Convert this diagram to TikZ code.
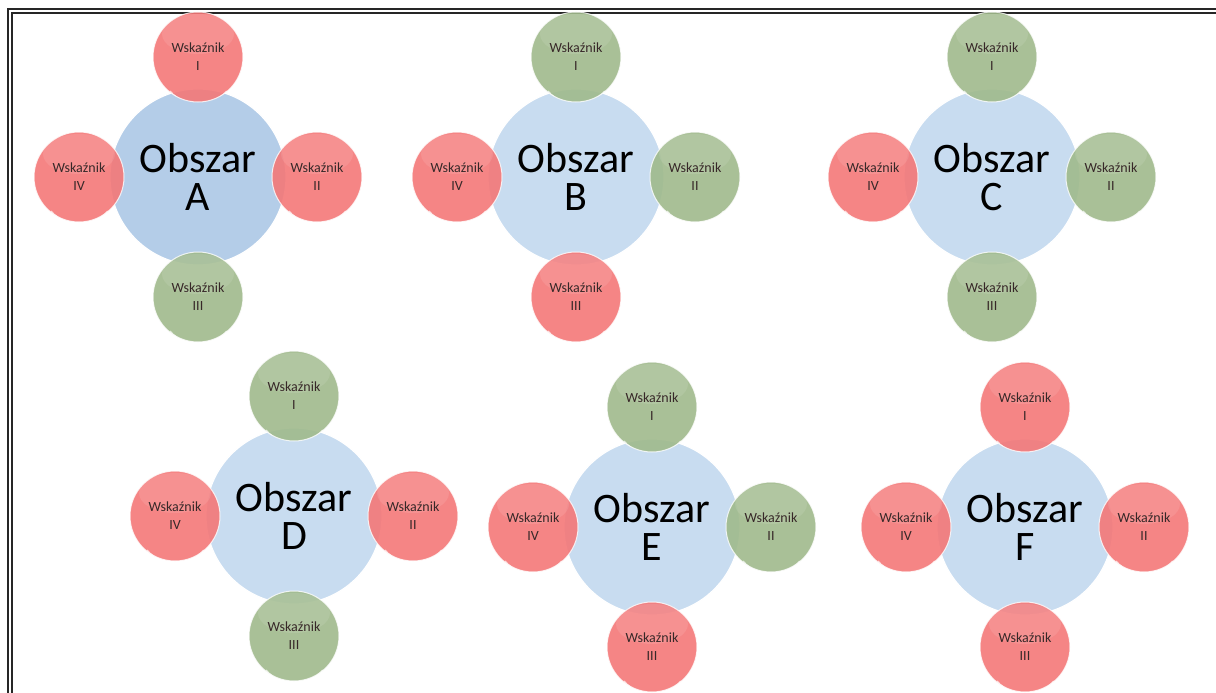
\documentclass[tikz,border=0pt]{standalone}
\usepackage{fontspec}
\setmainfont{Carlito}
\usetikzlibrary{calc}
\definecolor{ired}{RGB}{244,120,120}
\definecolor{igreen}{RGB}{160,186,140}
\definecolor{bluea}{RGB}{180,205,232}
\definecolor{blueb}{RGB}{200,220,240}
\definecolor{itext}{RGB}{55,40,40}
\tikzset{
  bigc/.style={circle, minimum size=176pt, inner sep=0pt, fill=#1, draw=white, line width=1.2pt,
    align=center, font=\fontsize{42}{38}\selectfont, text=black},
  ind/.style={circle, minimum size=90pt, inner sep=0pt, fill=#1, fill opacity=0.9, text opacity=1,
    draw=white, draw opacity=0.8, line width=1pt,
    align=center, font=\fontsize{14}{18}\selectfont, text=itext,
    path picture={
      \fill[white, opacity=0.10] ([yshift=-22pt]path picture bounding box.north) ellipse (36pt and 20pt);
      \draw[white, opacity=0.7, line width=1.2pt] ([yshift=3pt]path picture bounding box.south) ++(-28pt,8pt)
        arc[start angle=-140, end angle=-40, radius=37pt];
    }},
  frameline/.style={draw=black!85, line width=1.8pt}
}
\newcommand\obszarcl[8]{%
  \node[bigc=#8] (#1) at (#2,#3) {Obszar\\#1};
  \node[ind=#4] (#1i)   at ($(#1)+(0,-120)$) {Wskaźnik\\I};
  \node[ind=#5] (#1ii)  at ($(#1)+(119,0)$) {Wskaźnik\\II};
  \node[ind=#6] (#1iii) at ($(#1)+(0,120)$) {Wskaźnik\\III};
  \node[ind=#7] (#1iv)  at ($(#1)+(-119,0)$) {Wskaźnik\\IV};
}
\begin{document}
\begin{tikzpicture}[x=1pt,y=-1pt]
\useasboundingbox (0,0) rectangle (1216,693);
\fill[white] (0,0) rectangle (1216,693);
\begin{scope}
\clip (0,0) rectangle (1216,693);
\draw[frameline] (8,9) rectangle (1240,720);
\draw[frameline] (12,13) rectangle (1236,716);
\end{scope}
\obszarcl{A}{198}{177}{ired}{ired}{igreen}{ired}{bluea}
\obszarcl{B}{576}{177}{igreen}{igreen}{ired}{ired}{blueb}
\obszarcl{C}{992}{177}{igreen}{igreen}{igreen}{ired}{blueb}
\obszarcl{D}{294}{516}{igreen}{ired}{igreen}{ired}{blueb}
\obszarcl{E}{652}{527}{igreen}{igreen}{ired}{ired}{blueb}
\obszarcl{F}{1025}{527}{ired}{ired}{ired}{ired}{blueb}
\end{tikzpicture}
\end{document}
